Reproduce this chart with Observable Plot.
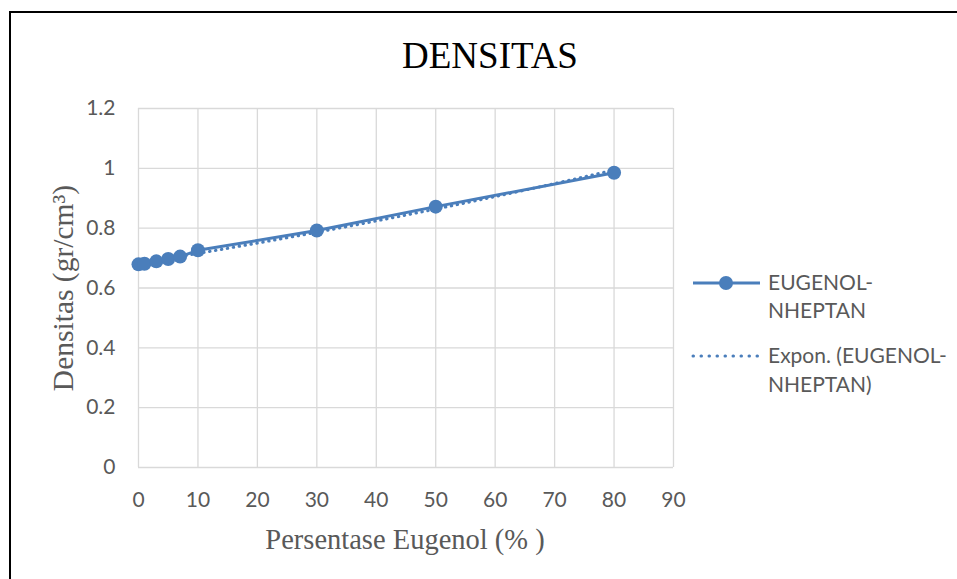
<!DOCTYPE html>
<html>
<head>
<meta charset="utf-8">
<script src="https://cdn.jsdelivr.net/npm/d3@7"></script>
<script src="https://cdn.jsdelivr.net/npm/@observablehq/plot@0.6"></script>
<style>
  html, body { margin: 0; padding: 0; background: #fff; }
  #wrap { position: relative; width: 957px; height: 579px; overflow: hidden; background: #fff; }
  #frame { position: absolute; left: 9px; top: 11px; width: 1000px; height: 700px;
           border-left: 2px solid #000; border-top: 2px solid #000; box-sizing: border-box; }
  #wrap svg { position: absolute; left: 0; top: 0; }
</style>
</head>
<body>
<div id="wrap"><div id="frame"></div></div>
<script>
// ---- data ----
const eugenolPct = [0, 1, 3, 5, 7, 10, 30, 50, 80];
const densitas   = [0.679, 0.681, 0.689, 0.697, 0.705, 0.726, 0.792, 0.872, 0.985];
const xTicks = [0, 10, 20, 30, 40, 50, 60, 70, 80, 90];
const yTicks = [0, 0.2, 0.4, 0.6, 0.8, 1, 1.2];
const titleText = "DENSITAS";
const xTitle = "Persentase Eugenol (% )";
const yTitle = "Densitas (gr/cm³)";
const seriesName = ["EUGENOL-", "NHEPTAN"];
const trendName = ["Expon. (EUGENOL-", "NHEPTAN)"];

const blue = "#4a7ebb";
const grey = "#595959";
const grid = "#d9d9d9";

const data = eugenolPct.map((x, i) => ({x, y: densitas[i]}));

// exponential trendline (least squares on ln y), as Excel does
const mx = d3.mean(data, d => d.x);
const my = d3.mean(data, d => Math.log(d.y));
const b = d3.sum(data, d => (d.x - mx) * (Math.log(d.y) - my)) / d3.sum(data, d => (d.x - mx) ** 2);
const a = Math.exp(my - b * mx);
const xMin = d3.min(eugenolPct), xMax = d3.max(eugenolPct);
const trend = d3.range(xMin, xMax + 0.001, (xMax - xMin) / 80).map(x => ({x, y: a * Math.exp(b * x)}));

const W = 957, H = 579;
const chart = Plot.plot({
  width: W, height: H,
  marginLeft: 138, marginRight: 284, marginTop: 108, marginBottom: 112,
  style: {fontFamily: "Lato", fontSize: "21px", color: grey, background: "transparent", overflow: "visible"},
  x: {domain: [0, 90], ticks: xTicks, label: null},
  y: {domain: [0, 1.2], ticks: yTicks, label: null},
  marks: [
    Plot.ruleX(xTicks, {stroke: grid, strokeWidth: 1.3}),
    Plot.ruleY(yTicks, {stroke: grid, strokeWidth: 1.3}),
    Plot.axisX({ticks: xTicks, tickSize: 0, tickPadding: 25, fill: grey, fontSize: 21, label: null}),
    Plot.axisY({ticks: yTicks, tickSize: 0, tickPadding: 23, fill: grey, fontSize: 21, label: null,
                tickFormat: d => String(d)}),
    Plot.line(trend, {x: "x", y: "y", stroke: blue, strokeWidth: 3, strokeDasharray: "0.5,5.5", strokeLinecap: "round"}),
    Plot.line(data, {x: "x", y: "y", stroke: blue, strokeWidth: 3}),
    Plot.dot(data, {x: "x", y: "y", r: 7, fill: blue, stroke: "none"})
  ]
});
document.getElementById("wrap").appendChild(chart);

// ---- overlay: title, axis titles, legend ----
const ov = d3.select("#wrap").append("svg").attr("width", W).attr("height", H);
ov.append("text").attr("x", 490).attr("y", 68).attr("text-anchor", "middle")
  .attr("font-family", "Liberation Serif, Times New Roman, serif").attr("font-size", 37)
  .attr("fill", "#000").text(titleText);
ov.append("text").attr("x", 405).attr("y", 549).attr("text-anchor", "middle")
  .attr("font-family", "Liberation Serif, Times New Roman, serif").attr("font-size", 28.5)
  .attr("fill", grey).text(xTitle);
ov.append("text").attr("transform", "translate(73,288) rotate(-90)").attr("text-anchor", "middle")
  .attr("font-family", "Liberation Serif, Times New Roman, serif").attr("font-size", 29.5)
  .attr("fill", grey).text(yTitle);

const lg = ov.append("g").attr("font-family", "Lato").attr("font-size", 21).attr("fill", grey);
lg.append("line").attr("x1", 693).attr("x2", 760).attr("y1", 283).attr("y2", 283)
  .attr("stroke", blue).attr("stroke-width", 3);
lg.append("circle").attr("cx", 726).attr("cy", 283).attr("r", 7).attr("fill", blue);
lg.append("line").attr("x1", 693).attr("x2", 760).attr("y1", 356).attr("y2", 356)
  .attr("stroke", blue).attr("stroke-width", 3).attr("stroke-dasharray", "0.5,7.5").attr("stroke-linecap", "round");
seriesName.forEach((t, i) => lg.append("text").attr("x", 768).attr("y", 290 + i * 28).text(t));
trendName.forEach((t, i) => lg.append("text").attr("x", 768).attr("y", 363 + i * 29).text(t));
</script>
</body>
</html>
